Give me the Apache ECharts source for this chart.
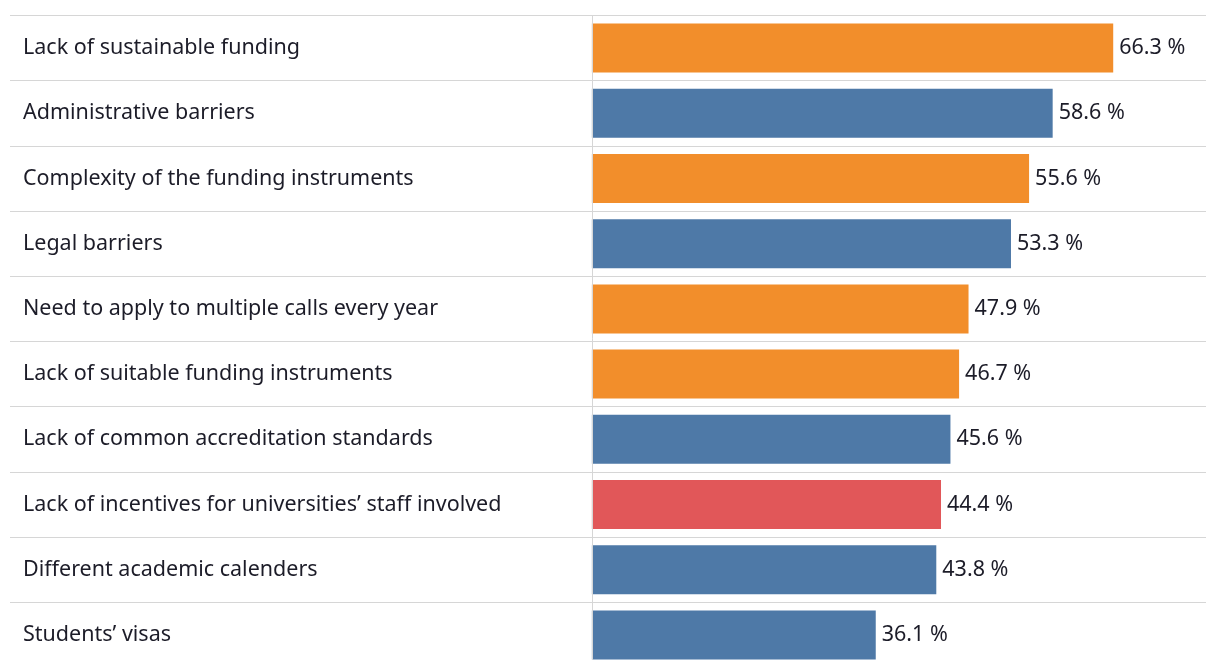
<!DOCTYPE html>
<html>
<head>
<meta charset="utf-8">
<script src="https://cdn.jsdelivr.net/npm/echarts@6/dist/echarts.min.js"></script>
<style>
  html, body { margin: 0; padding: 0; background: #fff; }
  #main { width: 1206px; height: 660px; }
</style>
</head>
<body>
<div id="main"></div>
<script>
// 数据
const categories = [
  "Lack of sustainable funding",
  "Administrative barriers",
  "Complexity of the funding instruments",
  "Legal barriers",
  "Need to apply to multiple calls every year",
  "Lack of suitable funding instruments",
  "Lack of common accreditation standards",
  "Lack of incentives for universities\u2019 staff involved",
  "Different academic calenders",
  "Students\u2019 visas"
];
const values = [66.3, 58.6, 55.6, 53.3, 47.9, 46.7, 45.6, 44.4, 43.8, 36.1];
const groups = ["o", "b", "o", "b", "o", "o", "b", "r", "b", "b"];

const colorMap = { o: "#F28E2B", b: "#4E79A7", r: "#E15759" };

const Chart = echarts.init(document.getElementById("main"));

const options = {
  animation: false,
  grid: {
    left: 10,
    right: 0,
    top: 15.5,
    height: 652,
    outerBoundsMode: "none",
    containLabel: false
  },
  xAxis: {
    type: "value",
    min: -74,
    max: 78.1,
    show: false,
    splitLine: { show: false }
  },
  yAxis: {
    type: "category",
    inverse: true,
    data: categories,
    axisLine: { show: false },
    axisTick: { show: false },
    axisLabel: {
      inside: true,
      align: "left",
      margin: 13,
      color: "#1c1c28",
      fontFamily: "Noto Sans",
      fontSize: 21.5
    },
    splitLine: {
      show: true,
      lineStyle: { color: "#d6d6d6", width: 1 }
    }
  },
  series: [
    {
      type: "bar",
      barWidth: 49,
      data: values.map((v, i) => ({
        value: v,
        itemStyle: { color: colorMap[groups[i]] }
      })),
      label: {
        show: true,
        position: "right",
        distance: 6,
        color: "#1c1c28",
        fontFamily: "Noto Sans",
        fontSize: 21.5,
        formatter: (p) => p.value.toFixed(1) + " %"
      },
      markLine: {
        silent: true,
        symbol: "none",
        label: { show: false },
        lineStyle: { color: "#d6d6d6", width: 1, type: "solid" },
        data: [{ xAxis: 0 }]
      }
    }
  ]
};

Chart.setOption(options);
</script>
</body>
</html>
